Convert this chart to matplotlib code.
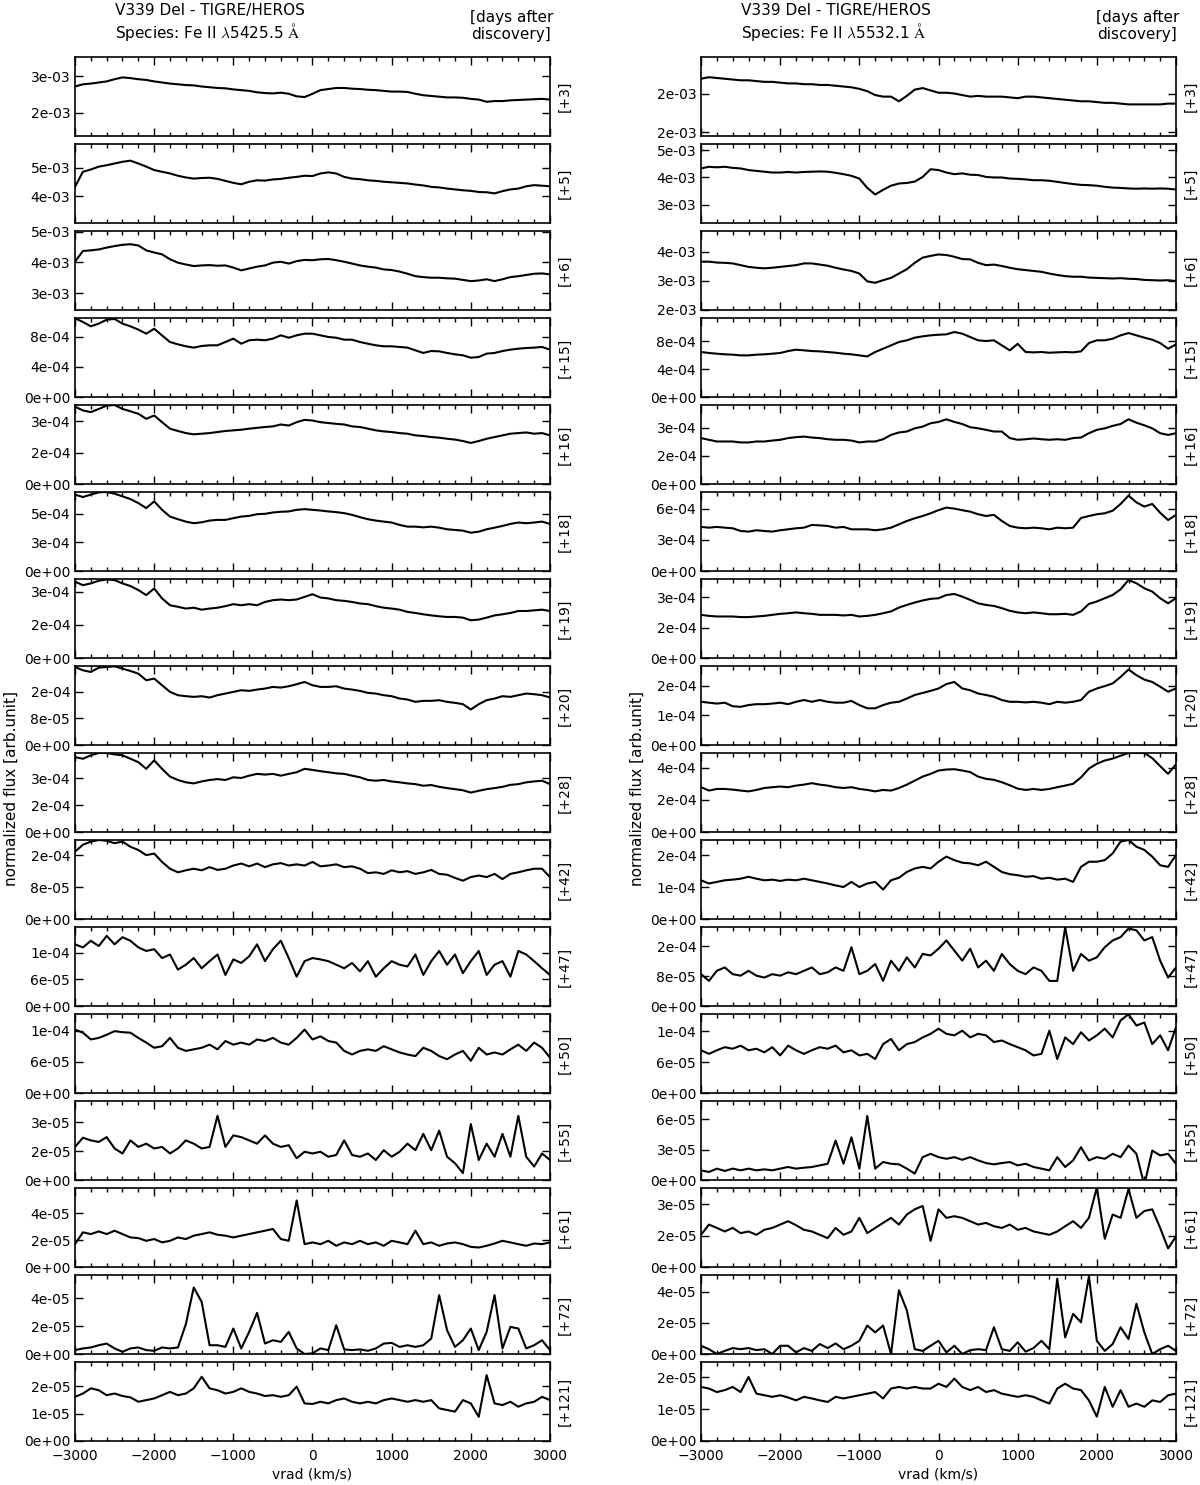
#!/usr/bin/env python

import numpy as np
import matplotlib
matplotlib.use('Agg')
import matplotlib.pyplot as plt
from matplotlib.ticker import FixedLocator, FormatStrFormatter, MultipleLocator

plt.rcParams['mathtext.fontset'] = 'cm'

# radial velocity grid (km/s)
vrad = np.arange(-3000, 3001, 100)
days = ['+3', '+5', '+6', '+15', '+16', '+18', '+19', '+20',
        '+28', '+42', '+47', '+50', '+55', '+61', '+72', '+121']
units = [1e-3] * 3 + [1e-4] * 9 + [1e-5] * 4

# ---- Fe II 5425.5 (left column), flux in units above ----
l03 = [2.72, 2.78, 2.80, 2.83, 2.86, 2.92, 2.97, 2.95, 2.92, 2.90,
       2.86, 2.83, 2.80, 2.78, 2.76, 2.75, 2.72, 2.70, 2.68, 2.67,
       2.64, 2.62, 2.60, 2.56, 2.54, 2.53, 2.55, 2.52, 2.45, 2.43,
       2.52, 2.62, 2.65, 2.68, 2.68, 2.66, 2.65, 2.63, 2.62, 2.60,
       2.58, 2.58, 2.57, 2.52, 2.48, 2.46, 2.44, 2.42, 2.42, 2.41,
       2.38, 2.36, 2.30, 2.32, 2.32, 2.34, 2.35, 2.36, 2.37, 2.38, 2.36]
l05 = [4.33, 4.86, 4.94, 5.04, 5.09, 5.15, 5.21, 5.25, 5.15, 5.04,
       4.92, 4.86, 4.80, 4.72, 4.66, 4.62, 4.64, 4.65, 4.61, 4.54,
       4.47, 4.42, 4.51, 4.56, 4.55, 4.59, 4.61, 4.65, 4.68, 4.72,
       4.71, 4.80, 4.84, 4.80, 4.68, 4.62, 4.60, 4.56, 4.54, 4.51,
       4.49, 4.47, 4.45, 4.41, 4.38, 4.33, 4.31, 4.27, 4.24, 4.21,
       4.19, 4.15, 4.14, 4.10, 4.18, 4.24, 4.27, 4.35, 4.39, 4.37, 4.35]
l06 = [4.02, 4.37, 4.39, 4.42, 4.48, 4.53, 4.57, 4.59, 4.55, 4.39,
       4.32, 4.26, 4.10, 3.99, 3.93, 3.88, 3.90, 3.91, 3.89, 3.90,
       3.83, 3.74, 3.80, 3.86, 3.90, 3.99, 4.02, 3.96, 4.04, 4.08,
       4.07, 4.10, 4.11, 4.07, 4.02, 3.96, 3.90, 3.86, 3.83, 3.77,
       3.75, 3.70, 3.63, 3.55, 3.52, 3.50, 3.50, 3.48, 3.47, 3.43,
       3.39, 3.41, 3.45, 3.39, 3.45, 3.52, 3.55, 3.59, 3.63, 3.64, 3.61]
l15 = [10.5, 10.0, 9.42, 9.78, 10.3, 10.4, 9.78, 9.42, 8.98, 8.44,
       9.10, 8.20, 7.33, 7.02, 6.76, 6.58, 6.80, 6.89, 6.89, 7.33,
       7.78, 7.10, 7.56, 7.64, 7.56, 7.78, 8.22, 7.90, 8.22, 8.44,
       8.44, 8.22, 8.00, 7.90, 7.64, 7.64, 7.33, 7.10, 6.89, 6.76,
       6.76, 6.67, 6.58, 6.22, 5.87, 6.13, 6.09, 5.87, 5.69, 5.56,
       5.24, 5.33, 5.78, 5.87, 6.13, 6.31, 6.44, 6.53, 6.58, 6.67, 6.31]
l16 = [3.69, 3.51, 3.43, 3.58, 3.74, 3.77, 3.58, 3.47, 3.35, 3.11,
       3.27, 2.95, 2.64, 2.53, 2.43, 2.37, 2.40, 2.43, 2.48, 2.53,
       2.56, 2.59, 2.64, 2.68, 2.72, 2.75, 2.84, 2.79, 2.95, 3.06,
       3.03, 2.95, 2.91, 2.87, 2.84, 2.75, 2.72, 2.64, 2.56, 2.51,
       2.48, 2.43, 2.40, 2.32, 2.29, 2.24, 2.21, 2.16, 2.12, 2.05,
       1.96, 2.05, 2.16, 2.24, 2.32, 2.40, 2.43, 2.46, 2.40, 2.43, 2.32]
l18 = [6.68, 6.47, 6.68, 6.88, 6.91, 6.76, 6.53, 6.29, 5.94, 5.50,
       6.09, 5.35, 4.76, 4.53, 4.32, 4.18, 4.26, 4.41, 4.47, 4.47,
       4.62, 4.76, 4.82, 4.97, 5.00, 5.12, 5.18, 5.21, 5.35, 5.41,
       5.35, 5.29, 5.21, 5.15, 5.06, 4.91, 4.71, 4.53, 4.41, 4.32,
       4.24, 4.03, 3.88, 3.88, 3.82, 3.88, 3.79, 3.65, 3.59, 3.53,
       3.35, 3.44, 3.65, 3.79, 3.94, 4.12, 4.24, 4.18, 4.24, 4.32, 4.12]
l19 = [3.46, 3.30, 3.38, 3.50, 3.56, 3.53, 3.38, 3.26, 3.08, 2.85,
       3.15, 2.70, 2.39, 2.32, 2.24, 2.28, 2.19, 2.24, 2.28, 2.35,
       2.44, 2.39, 2.44, 2.39, 2.54, 2.62, 2.65, 2.62, 2.65, 2.77,
       2.89, 2.74, 2.70, 2.62, 2.59, 2.54, 2.47, 2.44, 2.35, 2.28,
       2.24, 2.19, 2.09, 2.04, 1.98, 1.93, 1.89, 1.86, 1.86, 1.83,
       1.71, 1.74, 1.83, 1.93, 1.98, 2.04, 2.13, 2.13, 2.16, 2.19, 2.13]
l20 = [2.35, 2.25, 2.20, 2.33, 2.35, 2.37, 2.30, 2.23, 2.15, 1.95,
       2.00, 1.80, 1.60, 1.50, 1.47, 1.45, 1.47, 1.43, 1.50, 1.55,
       1.60, 1.65, 1.63, 1.67, 1.70, 1.75, 1.73, 1.77, 1.83, 1.90,
       1.80, 1.75, 1.75, 1.77, 1.70, 1.67, 1.63, 1.57, 1.55, 1.50,
       1.47, 1.40, 1.37, 1.30, 1.33, 1.33, 1.35, 1.30, 1.27, 1.23,
       1.07, 1.23, 1.35, 1.40, 1.47, 1.45, 1.50, 1.55, 1.53, 1.50, 1.43]
l28 = [4.16, 4.07, 4.26, 4.39, 4.39, 4.31, 4.26, 4.07, 3.88, 3.51,
       3.98, 3.51, 3.08, 2.89, 2.76, 2.70, 2.81, 2.89, 2.94, 2.89,
       3.04, 3.00, 3.13, 3.23, 3.19, 3.23, 3.13, 3.23, 3.32, 3.51,
       3.45, 3.38, 3.32, 3.26, 3.23, 3.13, 3.04, 2.89, 2.85, 2.89,
       2.81, 2.76, 2.70, 2.66, 2.57, 2.61, 2.51, 2.44, 2.38, 2.32,
       2.19, 2.29, 2.38, 2.44, 2.51, 2.62, 2.66, 2.76, 2.81, 2.85, 2.66]
l42 = [1.69, 1.86, 1.94, 1.98, 1.96, 1.90, 1.94, 1.81, 1.73, 1.60,
       1.64, 1.43, 1.26, 1.17, 1.22, 1.26, 1.22, 1.30, 1.23, 1.26,
       1.34, 1.39, 1.32, 1.39, 1.30, 1.37, 1.40, 1.34, 1.37, 1.34,
       1.43, 1.32, 1.34, 1.37, 1.30, 1.32, 1.26, 1.15, 1.17, 1.13,
       1.22, 1.17, 1.20, 1.13, 1.17, 1.23, 1.13, 1.11, 1.03, 0.96,
       1.05, 1.09, 1.05, 1.13, 1.00, 1.13, 1.17, 1.22, 1.26, 1.26, 1.05]
l47 = [1.39, 1.32, 1.47, 1.35, 1.58, 1.39, 1.55, 1.47, 1.32, 1.24,
       1.28, 1.08, 1.16, 0.82, 0.93, 1.08, 0.85, 1.01, 1.16, 0.70,
       1.05, 0.97, 1.12, 1.39, 1.01, 1.28, 1.47, 1.08, 0.66, 1.01,
       1.08, 1.05, 1.01, 0.93, 0.85, 0.97, 0.78, 1.01, 0.66, 0.85,
       1.01, 0.93, 0.89, 1.16, 0.70, 1.01, 1.24, 0.93, 1.16, 0.74,
       1.01, 1.24, 0.70, 0.93, 1.01, 0.66, 1.24, 1.16, 1.01, 0.85, 0.70]
l50 = [1.22, 1.16, 1.03, 1.06, 1.12, 1.19, 1.17, 1.16, 1.06, 0.97,
       0.87, 0.90, 1.06, 0.87, 0.81, 0.84, 0.87, 0.93, 0.84, 1.00,
       0.93, 0.97, 0.93, 1.03, 1.00, 1.06, 0.97, 0.93, 1.06, 1.22,
       1.03, 1.09, 1.00, 0.97, 0.81, 0.74, 0.81, 0.84, 0.81, 0.90,
       0.84, 0.78, 0.74, 0.71, 0.87, 0.81, 0.71, 0.65, 0.74, 0.81,
       0.62, 0.87, 0.74, 0.78, 0.74, 0.84, 0.93, 0.81, 0.97, 0.87, 0.68]
l55 = [1.72, 2.20, 2.06, 1.98, 2.23, 1.64, 1.38, 2.06, 1.72, 1.89,
       1.64, 1.72, 1.38, 1.64, 2.06, 1.89, 1.64, 1.72, 3.34, 1.72,
       2.32, 2.23, 2.06, 1.89, 2.32, 1.89, 1.72, 1.81, 1.13, 1.47,
       1.38, 1.47, 1.21, 1.30, 2.06, 1.30, 1.21, 1.38, 1.04, 1.55,
       1.21, 1.47, 1.89, 1.55, 2.40, 1.55, 2.57, 1.21, 0.87, 0.36,
       2.91, 1.04, 1.89, 1.21, 2.40, 1.21, 3.34, 1.21, 0.70, 1.38, 1.04]
l61 = [1.70, 2.58, 2.45, 2.65, 2.45, 2.70, 2.45, 2.20, 2.15, 1.95,
       2.08, 1.83, 1.95, 2.20, 2.08, 2.33, 2.45, 2.58, 2.40, 2.33,
       2.20, 2.33, 2.45, 2.58, 2.70, 2.83, 2.08, 1.95, 4.95, 1.70,
       1.83, 1.70, 1.95, 1.58, 1.83, 1.70, 1.95, 1.70, 1.83, 1.58,
       1.95, 1.83, 1.70, 2.70, 1.70, 1.83, 1.58, 1.75, 1.83, 1.70,
       1.50, 1.45, 1.58, 1.75, 1.95, 1.83, 1.70, 1.58, 1.75, 1.70, 1.83]
l72 = [0.28, 0.40, 0.47, 0.63, 0.75, 0.40, 0.16, 0.40, 0.47, 0.28,
       0.23, 0.47, 0.40, 0.47, 2.14, 4.78, 3.75, 0.63, 0.63, 0.51,
       1.83, 0.40, 1.59, 2.96, 0.75, 0.99, 0.87, 1.59, 0.40, 0.00,
       0.05, 0.40, 0.28, 2.07, 0.33, 0.28, 0.33, 0.23, 0.40, 0.75,
       0.80, 0.51, 0.63, 0.51, 0.63, 1.11, 4.23, 1.71, 0.51, 0.99,
       1.83, 0.28, 1.59, 4.23, 0.40, 1.95, 1.83, 0.40, 0.63, 0.99, 0.28]
l121 = [1.61, 1.73, 1.92, 1.85, 1.67, 1.73, 1.64, 1.59, 1.43, 1.49,
        1.55, 1.67, 1.79, 1.67, 1.73, 1.92, 2.34, 1.92, 1.85, 1.73,
        1.79, 1.92, 1.79, 1.73, 1.64, 1.67, 1.61, 1.67, 1.98, 1.37,
        1.35, 1.43, 1.37, 1.49, 1.55, 1.43, 1.37, 1.43, 1.37, 1.49,
        1.55, 1.49, 1.43, 1.49, 1.43, 1.49, 1.19, 1.13, 1.07, 1.49,
        1.37, 0.88, 2.40, 1.37, 1.31, 1.43, 1.25, 1.37, 1.43, 1.61, 1.49]

# ---- Fe II 5532.1 (right column) ----
r03 = [2.19, 2.21, 2.20, 2.19, 2.18, 2.17, 2.17, 2.16, 2.15, 2.15,
       2.14, 2.13, 2.13, 2.12, 2.12, 2.11, 2.11, 2.10, 2.09, 2.08,
       2.06, 2.03, 1.98, 1.96, 1.96, 1.90, 1.97, 2.05, 2.07, 2.04,
       2.01, 2.01, 2.00, 1.98, 1.96, 1.97, 1.96, 1.96, 1.96, 1.95,
       1.94, 1.96, 1.96, 1.95, 1.94, 1.93, 1.92, 1.91, 1.90, 1.90,
       1.89, 1.88, 1.88, 1.87, 1.86, 1.86, 1.86, 1.86, 1.86, 1.87, 1.87]
r05 = [4.33, 4.39, 4.37, 4.39, 4.35, 4.33, 4.27, 4.24, 4.21, 4.18,
       4.18, 4.20, 4.18, 4.20, 4.21, 4.22, 4.21, 4.17, 4.12, 4.06,
       3.96, 3.62, 3.38, 3.55, 3.70, 3.78, 3.80, 3.85, 4.02, 4.30,
       4.27, 4.18, 4.12, 4.15, 4.10, 4.09, 4.02, 4.00, 4.00, 3.96,
       3.95, 3.93, 3.90, 3.90, 3.88, 3.84, 3.80, 3.76, 3.73, 3.72,
       3.70, 3.66, 3.63, 3.62, 3.60, 3.59, 3.60, 3.59, 3.60, 3.59, 3.56]
r06 = [3.66, 3.66, 3.63, 3.62, 3.60, 3.54, 3.48, 3.45, 3.43, 3.45,
       3.48, 3.51, 3.54, 3.60, 3.60, 3.56, 3.52, 3.45, 3.39, 3.34,
       3.25, 2.98, 2.93, 3.02, 3.10, 3.25, 3.40, 3.62, 3.80, 3.86,
       3.91, 3.89, 3.83, 3.75, 3.74, 3.62, 3.54, 3.56, 3.51, 3.45,
       3.40, 3.37, 3.34, 3.31, 3.25, 3.20, 3.16, 3.14, 3.14, 3.11,
       3.10, 3.09, 3.08, 3.09, 3.07, 3.06, 3.03, 3.02, 3.01, 3.02, 2.99]
r15 = [6.43, 6.29, 6.19, 6.10, 6.05, 5.95, 5.95, 6.05, 6.10, 6.19,
       6.29, 6.57, 6.76, 6.67, 6.57, 6.52, 6.43, 6.33, 6.19, 6.10,
       5.95, 5.80, 6.43, 6.90, 7.38, 7.86, 8.10, 8.48, 8.67, 8.81,
       8.90, 8.95, 9.29, 9.05, 8.57, 8.10, 8.00, 8.10, 7.38, 6.67,
       7.60, 6.43, 6.38, 6.43, 6.33, 6.38, 6.43, 6.38, 6.52, 7.71,
       8.10, 8.10, 8.33, 8.81, 9.14, 8.81, 8.48, 8.19, 7.71, 6.90, 7.52]
r16 = [2.44, 2.35, 2.26, 2.26, 2.26, 2.21, 2.21, 2.26, 2.26, 2.31,
       2.35, 2.44, 2.49, 2.52, 2.47, 2.44, 2.38, 2.35, 2.35, 2.31,
       2.21, 2.26, 2.26, 2.38, 2.61, 2.74, 2.79, 2.96, 3.05, 3.23,
       3.30, 3.44, 3.30, 3.19, 3.02, 2.96, 2.88, 2.79, 2.79, 2.44,
       2.35, 2.38, 2.42, 2.38, 2.35, 2.38, 2.35, 2.44, 2.47, 2.70,
       2.88, 2.96, 3.09, 3.19, 3.44, 3.26, 3.12, 2.96, 2.70, 2.61, 2.70]
r18 = [4.24, 4.17, 4.24, 4.17, 4.11, 3.85, 3.79, 3.92, 3.85, 3.79,
       3.92, 4.01, 4.11, 4.17, 4.43, 4.39, 4.33, 4.17, 4.24, 4.01,
       4.01, 4.01, 3.92, 4.01, 4.17, 4.49, 4.81, 5.07, 5.29, 5.55,
       5.85, 6.10, 6.00, 5.85, 5.71, 5.46, 5.29, 5.40, 4.81, 4.33,
       4.17, 4.11, 4.17, 4.11, 4.01, 4.17, 4.11, 4.17, 5.10, 5.29,
       5.46, 5.55, 5.80, 6.45, 7.25, 6.60, 6.20, 6.45, 5.60, 4.90, 5.40]
r19 = [2.13, 2.08, 2.05, 2.05, 2.05, 2.02, 2.02, 2.05, 2.08, 2.13,
       2.18, 2.21, 2.25, 2.21, 2.18, 2.13, 2.13, 2.13, 2.10, 2.13,
       2.05, 2.08, 2.13, 2.21, 2.30, 2.49, 2.62, 2.74, 2.84, 2.92,
       2.95, 3.11, 3.16, 3.03, 2.87, 2.70, 2.62, 2.57, 2.46, 2.33,
       2.25, 2.21, 2.25, 2.21, 2.16, 2.16, 2.18, 2.13, 2.30, 2.67,
       2.79, 2.95, 3.11, 3.39, 3.85, 3.69, 3.44, 3.28, 2.95, 2.70, 2.95]
r20 = [1.46, 1.43, 1.40, 1.43, 1.31, 1.29, 1.35, 1.38, 1.38, 1.40,
       1.43, 1.38, 1.46, 1.52, 1.46, 1.52, 1.46, 1.43, 1.43, 1.49,
       1.35, 1.24, 1.24, 1.35, 1.43, 1.46, 1.57, 1.69, 1.76, 1.83,
       1.91, 2.06, 2.13, 1.91, 1.85, 1.74, 1.69, 1.63, 1.52, 1.46,
       1.46, 1.44, 1.46, 1.43, 1.38, 1.46, 1.43, 1.46, 1.52, 1.80,
       1.91, 1.99, 2.08, 2.30, 2.55, 2.36, 2.21, 2.13, 1.97, 1.80, 1.91]
r28 = [2.79, 2.58, 2.68, 2.68, 2.64, 2.58, 2.53, 2.62, 2.74, 2.79,
       2.83, 2.79, 2.89, 2.95, 3.04, 2.95, 2.89, 2.79, 2.74, 2.79,
       2.68, 2.62, 2.53, 2.62, 2.58, 2.74, 2.95, 3.20, 3.45, 3.62,
       3.83, 3.89, 3.91, 3.83, 3.73, 3.45, 3.31, 3.25, 3.10, 2.91,
       2.70, 2.62, 2.68, 2.62, 2.68, 2.79, 2.89, 3.00, 3.40, 3.95,
       4.25, 4.45, 4.57, 4.75, 4.92, 4.92, 4.92, 4.60, 4.10, 3.62, 4.21]
r42 = [1.21, 1.11, 1.16, 1.21, 1.23, 1.26, 1.32, 1.26, 1.21, 1.23,
       1.19, 1.23, 1.21, 1.26, 1.21, 1.16, 1.11, 1.05, 1.00, 1.16,
       1.00, 1.11, 1.16, 0.92, 1.21, 1.29, 1.47, 1.58, 1.63, 1.58,
       1.79, 1.95, 1.84, 1.76, 1.74, 1.68, 1.79, 1.63, 1.47, 1.40,
       1.37, 1.32, 1.34, 1.26, 1.29, 1.23, 1.26, 1.16, 1.63, 1.79,
       1.79, 1.84, 2.05, 2.42, 2.47, 2.26, 2.16, 1.95, 1.68, 1.63, 2.00]
r47 = [0.85, 0.67, 0.94, 1.03, 0.85, 0.81, 0.94, 0.81, 0.76, 0.85,
       0.81, 0.90, 0.85, 0.94, 1.03, 0.85, 0.90, 1.03, 0.94, 1.57,
       0.85, 0.94, 1.12, 0.67, 1.21, 0.94, 1.30, 1.03, 1.39, 1.35,
       1.53, 1.75, 1.48, 1.21, 1.53, 1.03, 1.21, 0.94, 1.39, 1.12,
       0.94, 0.85, 1.03, 0.94, 0.67, 0.67, 2.10, 0.94, 1.39, 1.21,
       1.30, 1.57, 1.75, 1.84, 2.07, 2.02, 1.75, 1.84, 1.21, 0.76, 1.03]
r50 = [0.83, 0.76, 0.83, 0.89, 0.86, 0.92, 0.83, 0.86, 0.79, 0.89,
       0.73, 0.92, 0.83, 0.76, 0.83, 0.89, 0.86, 0.92, 0.79, 0.83,
       0.73, 0.76, 0.66, 0.95, 1.05, 0.83, 0.95, 0.99, 1.08, 1.15,
       1.25, 1.15, 1.12, 1.21, 1.08, 1.15, 1.12, 0.99, 1.02, 0.95,
       0.89, 0.83, 0.73, 0.76, 1.21, 0.66, 1.08, 0.95, 1.18, 1.02,
       1.12, 1.25, 1.08, 1.41, 1.53, 1.31, 1.37, 0.95, 1.12, 0.83, 1.28]
r55 = [0.95, 0.79, 1.12, 0.89, 1.12, 0.95, 1.12, 0.95, 1.05, 0.95,
       1.12, 1.28, 1.12, 1.21, 1.28, 1.44, 1.60, 3.88, 1.60, 4.20,
       1.12, 6.31, 1.12, 1.77, 1.60, 1.54, 1.12, 0.63, 2.25, 2.58,
       2.25, 2.09, 2.25, 1.99, 2.25, 1.93, 1.67, 1.54, 1.67, 1.77,
       1.44, 1.60, 1.28, 1.12, 0.95, 2.25, 1.28, 1.93, 3.23, 1.93,
       2.25, 2.09, 2.58, 2.25, 3.39, 2.58, -0.50, 2.90, 2.42, 2.58, 1.60]
r61 = [1.54, 2.03, 1.87, 1.70, 1.87, 1.62, 1.70, 1.54, 1.78, 1.87,
       2.03, 2.19, 2.00, 1.78, 1.70, 1.54, 1.38, 1.87, 1.54, 1.70,
       2.35, 1.62, 1.87, 2.11, 2.35, 2.03, 2.51, 2.76, 2.92, 1.25,
       2.76, 2.35, 2.43, 2.35, 2.19, 2.03, 2.11, 1.95, 1.87, 2.03,
       1.78, 1.87, 1.70, 1.62, 1.54, 1.70, 1.95, 2.19, 1.87, 2.35,
       3.81, 1.35, 2.51, 2.35, 3.73, 2.35, 2.68, 2.76, 1.87, 0.89, 1.46]
r72 = [0.53, 0.31, 0.00, 0.20, 0.38, 0.31, 0.38, 0.25, 0.31, 0.00,
       0.53, 0.53, 0.10, 0.38, 0.20, 0.64, 0.38, 0.68, 0.31, 0.53,
       0.85, 1.83, 1.39, 1.83, 0.00, 4.10, 2.80, 0.31, 0.20, 0.53,
       0.85, 0.10, 0.53, 0.00, 0.25, 0.31, 0.25, 1.72, 0.31, 0.20,
       0.75, 0.15, 0.38, 0.85, 0.31, 4.85, 1.07, 2.58, 2.04, 5.00,
       0.85, 0.20, 0.64, 1.72, 0.96, 3.23, 1.39, 0.00, 0.31, 0.53, 0.20]
r121 = [1.69, 1.64, 1.53, 1.59, 1.69, 1.53, 2.00, 1.48, 1.43, 1.38,
        1.43, 1.36, 1.27, 1.38, 1.33, 1.27, 1.22, 1.38, 1.33, 1.38,
        1.43, 1.48, 1.53, 1.33, 1.64, 1.69, 1.64, 1.69, 1.64, 1.64,
        1.79, 1.69, 1.95, 1.69, 1.59, 1.69, 1.53, 1.59, 1.48, 1.43,
        1.38, 1.43, 1.38, 1.27, 1.17, 1.64, 1.79, 1.64, 1.59, 1.27,
        0.76, 1.69, 1.07, 1.59, 1.07, 1.17, 1.07, 1.27, 1.22, 1.43, 1.48]

left_spectra = [l03, l05, l06, l15, l16, l18, l19, l20, l28, l42, l47, l50, l55, l61, l72, l121]
right_spectra = [r03, r05, r06, r15, r16, r18, r19, r20, r28, r42, r47, r50, r55, r61, r72, r121]

# y ranges, same units as the spectra
left_ylim = [(1.36, 3.53), (3.06, 5.835), (2.45, 5.02), (0, 10.53), (0, 3.77), (0, 6.91),
             (0, 3.58), (0, 2.38), (0, 4.39), (0, 1.98), (0, 1.78), (0, 1.52),
             (0, 4.11), (0, 5.88), (0, 5.68), (0, 2.88)]
right_ylim = [(1.453, 2.47), (2.34, 5.22), (1.99, 4.72), (0, 11.29), (0, 4.2), (0, 7.6),
              (0, 3.9), (0, 2.67), (0, 4.92), (0, 2.47), (0, 2.11), (0, 1.535),
              (0, 7.78), (0, 3.78), (0, 5.08), (0, 2.47)]

columns = [('5425.5', left_spectra, left_ylim), ('5532.1', right_spectra, right_ylim)]


def few_ticks(lo, hi, nbins=3):
    # tick picking of the old MaxNLocator (nbins=3)
    steps = [1, 1.5, 2, 2.5, 3, 4, 5, 6, 8, 10]
    scale = 10 ** np.floor(np.log10((hi - lo) / nbins))
    raw = (hi - lo) / nbins / scale
    for s in steps:
        if s < raw:
            continue
        step = s * scale
        k0 = np.floor(lo / step)
        if (k0 + nbins) * step >= hi:
            break
    return np.arange(k0, k0 + nbins + 2) * step


fig, axes = plt.subplots(16, 2, sharex=True, figsize=(12, 14.85), dpi=100)
fig.subplots_adjust(left=75 / 1200., right=1176 / 1200., top=1 - 57 / 1485., bottom=1 - 1441 / 1485.,
                    hspace=0.101, wspace=0.318)

for c, (wl, spectra, ylims) in enumerate(columns):
    for i in range(16):
        ax = axes[i, c]
        u = units[i]
        ax.plot(vrad, np.array(spectra[i]) * u, color='black', lw=1.5)
        lo, hi = ylims[i][0] * u, ylims[i][1] * u
        ax.set_ylim(lo, hi)
        ax.yaxis.set_major_locator(FixedLocator(few_ticks(lo, hi)))
        ax.yaxis.set_major_formatter(FormatStrFormatter('%.0e'))
        ax.set_xlim(-3000, 3000)
        ax.xaxis.set_major_locator(MultipleLocator(1000))
        ax.xaxis.set_minor_locator(MultipleLocator(200))
        ax.tick_params(which='both', direction='in', top=True, right=True, labelsize=10)
        ax.tick_params(which='major', length=6, width=1)
        ax.tick_params(which='minor', length=3, width=1)
        ax.tick_params(axis='x', pad=6)
        for sp in ax.spines.values():
            sp.set_linewidth(1.2)
        ax.text(1.03, 0.5, '[%s]' % days[i], transform=ax.transAxes, rotation=90,
                ha='center', va='center', fontsize=10)
    axes[15, c].set_xlabel('vrad (km/s)', fontsize=10, labelpad=3)

    x0 = axes[0, c].get_position().x0
    x1 = axes[0, c].get_position().x1
    fig.text(x0 + 40 / 1200., 1 - 3 / 1485.,
             'V339 Del - TIGRE/HEROS\nSpecies: Fe II $\\lambda$%s $\\mathrm{\\AA}$' % wl,
             ha='left', va='top', fontsize=11)
    fig.text(x1 + 3 / 1200., 1 - 10 / 1485., '[days after\ndiscovery]',
             ha='right', va='top', multialignment='center', fontsize=11)
    fig.text(x0 - 64 / 1200., 1 - 788 / 1485., 'normalized flux [arb.unit]',
             rotation=90, ha='center', va='center', fontsize=11)

fig.savefig('out.png', dpi=100)
